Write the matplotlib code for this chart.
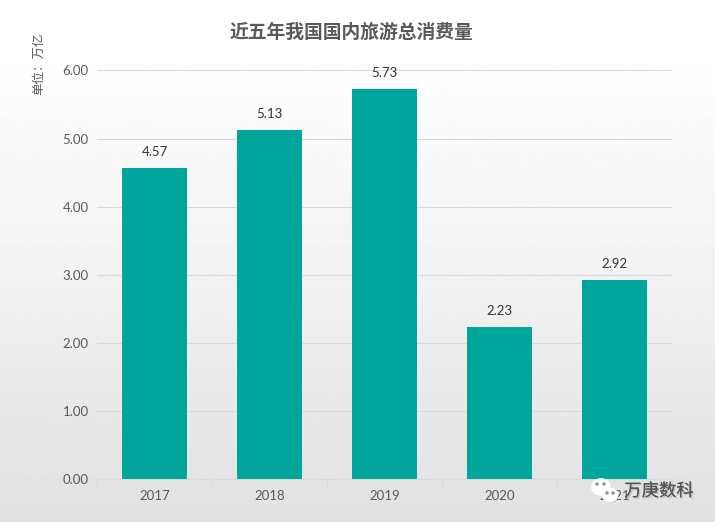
import matplotlib
matplotlib.use('Agg')
import matplotlib.pyplot as plt
import matplotlib.patheffects as pe
from matplotlib.patches import Ellipse
import numpy as np

plt.rcParams['font.family'] = ['Noto Sans CJK SC', 'DejaVu Sans']

years = ['2017', '2018', '2019', '2020', '2021']
spending = [4.57, 5.13, 5.73, 2.23, 2.92]
y_ticks = [0, 1, 2, 3, 4, 5, 6]

W, H = 715, 522
fig = plt.figure(figsize=(W / 100, H / 100), dpi=100)

# background gradient, white at top to light grey at bottom
bg = fig.add_axes([0, 0, 1, 1], zorder=0)
grad = np.interp(np.linspace(0, 1, 256), [0, 0.12, 0.5, 1], [255, 254, 243, 225]).reshape(-1, 1)
bg.imshow(grad, cmap='gray', vmin=0, vmax=255, aspect='auto', extent=[0, W, H, 0])
bg.set_xlim(0, W)
bg.set_ylim(H, 0)
bg.axis('off')

# plot area in pixels
left, right, top, bottom = 97, 672, 70.5, 479
ax = fig.add_axes([left / W, 1 - bottom / H, (right - left) / W, (bottom - top) / H], zorder=1)
ax.patch.set_alpha(0)

x = np.arange(len(years))
ax.bar(x, spending, width=0.57, color='#00A59C', zorder=3)
for xi, v in zip(x, spending):
    ax.annotate('%.2f' % v, (xi, v), xytext=(0, 7), textcoords='offset points',
                ha='center', va='bottom', fontsize=9.5, color='#333333',
                family='Lato')

ax.set_xlim(-0.5, 4.5)
ax.set_ylim(0, 6)
ax.set_yticks(y_ticks)
ax.set_yticklabels(['%.2f' % t for t in y_ticks], family='Lato', fontsize=9.5, color='#595959')
ax.set_xticks(x)
ax.set_xticklabels(years, family='Lato', fontsize=9.5, color='#595959')
ax.set_xticks(np.arange(-0.5, 5, 1), minor=True)
ax.tick_params(axis='y', length=0, pad=6)
ax.tick_params(axis='x', which='major', length=0, pad=8)
ax.tick_params(axis='x', which='minor', length=5, color='#D9D9D9', direction='out', width=0.8)
ax.grid(axis='y', color='#D9D9D9', linewidth=0.8, zorder=0)
for s in ['top', 'right', 'left']:
    ax.spines[s].set_visible(False)
ax.spines['bottom'].set_color('#D9D9D9')
ax.spines['bottom'].set_linewidth(0.8)

# title and unit label
fig.text(351 / W, 1 - 32 / H, '近五年我国国内旅游总消费量', ha='center', va='center',
         fontsize=13.5, fontweight='bold', color='#595959')
fig.text(39 / W, 1 - 64 / H, '单位：万亿', rotation=90, ha='center', va='center',
         fontsize=9, color='#595959')

# watermark over the last tick label
over = fig.add_axes([0, 0, 1, 1], zorder=2)
over.set_xlim(0, W)
over.set_ylim(H, 0)
over.axis('off')
over.patch.set_alpha(0)
shadow = [pe.withSimplePatchShadow(offset=(0.8, -0.8), shadow_rgbFace='#777777', alpha=0.5), pe.Normal()]
over.add_patch(Ellipse((601, 487), 18, 16, color='white', path_effects=shadow))
over.add_patch(Ellipse((610, 495), 15, 13, color='white', path_effects=shadow))
for ex, ey in [(597, 484), (604, 484), (607, 493), (613, 493)]:
    over.add_patch(Ellipse((ex, ey), 2.2, 2.2, color='#999999'))
over.text(659, 491, '万庚数科', ha='center', va='center', fontsize=12.5, color='#555555',
          path_effects=[pe.withSimplePatchShadow(offset=(1, -1), shadow_rgbFace='#999999', alpha=0.5),
                        pe.Normal()])

fig.savefig('out.png', dpi=100)
